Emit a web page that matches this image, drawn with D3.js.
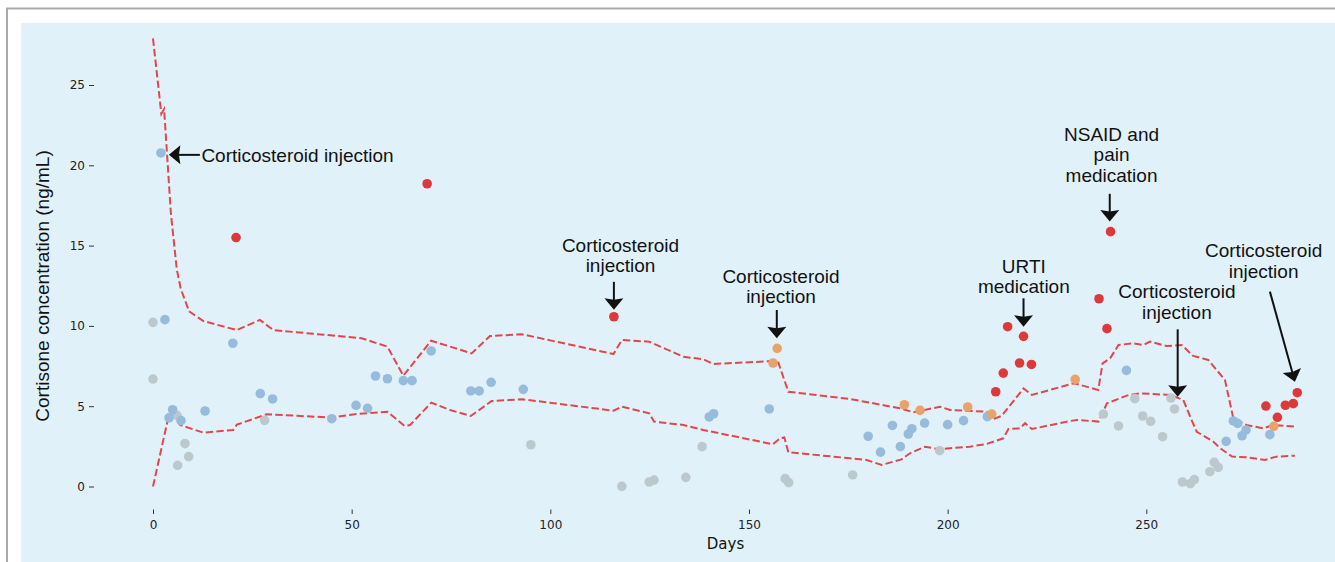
<!DOCTYPE html>
<html>
<head>
<meta charset="utf-8">
<script src="https://cdn.jsdelivr.net/npm/d3@7/dist/d3.min.js"></script>
<style>
  body { margin: 0; background: #fff; }
  svg { display: block; }
</style>
</head>
<body>
<div id="chart"></div>
<script>
// readings, grouped by dot colour
const blueDays = [2.0, 3.0, 4.03, 4.95, 7.05, 13.1, 20.1, 27.0, 30.1, 45, 51.1, 54, 56, 59, 63, 65.2, 70, 80, 82.1, 85.1, 93.2,
  140, 141.1, 155.1, 180, 183.1, 186.1, 188.1, 190.1, 191, 194.2, 200, 204, 210, 245, 270.1, 271.9, 273, 274.1, 275.1, 281.1];
const blueVals = [20.77, 10.39, 4.27, 4.78, 4.10, 4.70, 8.92, 5.78, 5.45, 4.22, 5.05, 4.87, 6.88, 6.71, 6.59, 6.59, 8.44, 5.95, 5.95, 6.49, 6.05,
  4.33, 4.53, 4.83, 3.13, 2.14, 3.80, 2.48, 3.27, 3.60, 3.95, 3.85, 4.10, 4.35, 7.23, 2.81, 4.08, 3.93, 3.16, 3.52, 3.23];

const grayDays = [0, 0, 6.04, 6.2, 8.05, 8.98, 28.1, 95.1, 118, 124.9, 126.1, 134.1, 138.2, 159.1, 160, 176.1, 198,
  239.2, 243, 247.1, 249.1, 251.1, 254.1, 256.2, 257.1, 259.1, 261.1, 262.1, 266, 267.1, 268.1];
const grayVals = [10.22, 6.69, 4.43, 1.32, 2.67, 1.86, 4.12, 2.60, 0.01, 0.28, 0.40, 0.57, 2.48, 0.49, 0.24, 0.72, 2.23,
  4.51, 3.77, 5.47, 4.39, 4.06, 3.10, 5.51, 4.83, 0.28, 0.18, 0.43, 0.92, 1.50, 1.19];

const orangeDays = [156.05, 157.1, 189.1, 193.05, 205.05, 211.1, 232.1, 282.1];
const orangeVals = [7.69, 8.60, 5.09, 4.74, 4.95, 4.51, 6.67, 3.75];

const redDays = [20.9, 69, 116, 212.1, 214, 215.1, 218.1, 219.1, 221.1, 238.1, 240.1, 241, 280.1, 283, 285, 287, 288];
const redVals = [15.5, 18.85, 10.57, 5.90, 7.06, 9.95, 7.69, 9.35, 7.60, 11.69, 9.83, 15.87, 5.01, 4.31, 5.06, 5.16, 5.84];

// reference band (dashed lines)
const upperDays = [0, 2.1, 2.8, 4.5, 6.0, 7.0, 9.1, 12.7, 21.1, 26.9, 30.3, 52.5, 59, 63, 70, 74.8, 80.2, 84.8, 92.8, 115.9, 118,
  124.9, 133.5, 138.5, 141, 156, 157.4, 159.9, 175.4, 181.3, 188, 191.4, 198.1, 200.6, 209.8, 211.5, 213.6, 219.1, 221.2,
  231.8, 237.9, 239.0, 240.9, 243, 246.7, 249.3, 250.9, 255.1, 258.9, 261.8, 265.6, 269.8, 271.9, 275.2, 279.4, 281.9, 287.8];
const upperVals = [27.9, 23.2, 23.5, 17.0, 13.5, 12.3, 10.9, 10.3, 9.74, 10.37, 9.74, 9.23, 8.71, 6.9, 9.08, 8.71, 8.29, 9.37, 9.48, 8.25, 9.12,
  9.02, 8.08, 7.92, 7.63, 7.81, 7.71, 5.9, 5.45, 5.18, 4.87, 4.62, 4.97, 4.76, 4.66, 4.2, 4.4, 6.11, 5.7,
  6.43, 6.01, 7.67, 7.98, 8.81, 8.92, 8.81, 9.02, 8.75, 8.81, 8.13, 7.88, 6.63, 4.25, 3.83, 3.62, 3.83, 3.72];

const lowerDays = [0, 3.9, 5.1, 6.8, 12.7, 20.2, 21.1, 28.6, 45, 50.8, 59, 63.3, 64.7, 70.05, 74.75, 80, 85.2, 93, 115.9, 118,
  124.9, 126.1, 133.5, 138.5, 156, 157.8, 158.9, 159.9, 175.4, 179.6, 183.4, 188.4, 190.5, 194.3, 197.7, 205.6, 209.8, 214,
  215.3, 218.2, 219.5, 221.2, 230.8, 232.6, 238, 240.1, 245.1, 248.4, 251.4, 256, 259.3, 261.4, 262.7, 266.9, 268.6, 271.6,
  275.2, 279.8, 282.7, 287.4];
const lowerVals = [0, 4.35, 4.5, 3.83, 3.35, 3.52, 3.85, 4.5, 4.29, 4.5, 4.66, 3.77, 3.83, 5.22, 4.76, 4.39, 5.32, 5.43, 4.72, 4.97,
  4.56, 4.04, 3.83, 3.52, 2.63, 3.0, 3.06, 2.13, 1.76, 1.65, 1.34, 1.69, 2.07, 2.48, 2.32, 2.48, 2.65, 3.0,
  3.58, 3.62, 3.94, 3.58, 4.08, 4.14, 4.04, 5.18, 5.66, 5.8, 5.76, 5.7, 5.39, 4.14, 3.41, 2.79, 2.38, 1.86,
  1.82, 1.65, 1.86, 1.92];

const xTicks = [0, 50, 100, 150, 200, 250];
const yTicks = [0, 5, 10, 15, 20, 25];

// annotations: text lines and where the arrow tip sits (data units)
const annLabels = [
  ["Corticosteroid injection"],
  ["Corticosteroid", "injection"],
  ["Corticosteroid", "injection"],
  ["NSAID and", "pain", "medication"],
  ["URTI", "medication"],
  ["Corticosteroid", "injection"],
  ["Corticosteroid", "injection"]
];
const annTipDays = [4.0, 116, 157, 240.8, 219.1, 257.9, 287.4];
const annTipVals = [20.65, 11.0, 9.23, 16.5, 9.95, 5.59, 6.53];

const W = 1335, H = 562;

const svg = d3.select("#chart").append("svg")
  .attr("width", W)
  .attr("height", H);

// frame + panel background
svg.append("rect")
  .attr("x", 7).attr("y", 8.5)
  .attr("width", W).attr("height", H)
  .attr("fill", "#fff")
  .attr("stroke", "#a9a9a9")
  .attr("stroke-width", 2);
svg.append("rect")
  .attr("x", 21).attr("y", 23)
  .attr("width", W - 21).attr("height", H - 23)
  .attr("fill", "#e1f1fa");

const x = d3.scaleLinear().domain([0, 250]).range([153, 1146.3]);
const y = d3.scaleLinear().domain([0, 25]).range([486.5, 85]);

// axes
const xAxis = svg.append("g")
  .attr("transform", "translate(0,509.5)")
  .call(d3.axisBottom(x).tickValues(xTicks).tickSize(4.5).tickPadding(6));
const yAxis = svg.append("g")
  .attr("transform", "translate(94,0)")
  .call(d3.axisLeft(y).tickValues(yTicks).tickSize(5).tickPadding(4));
[xAxis, yAxis].forEach(g => {
  g.select(".domain").remove();
  g.selectAll(".tick line").attr("stroke", "#333");
  g.selectAll(".tick text")
    .attr("fill", "#222")
    .style("font-family", "'DejaVu Sans', sans-serif")
    .style("font-size", "12px");
});

svg.append("text")
  .attr("x", 725.5).attr("y", 549)
  .attr("text-anchor", "middle")
  .style("font-family", "'DejaVu Sans', sans-serif")
  .style("font-size", "15px")
  .attr("fill", "#111")
  .text("Days");

svg.append("text")
  .attr("transform", "translate(49,286) rotate(-90)")
  .attr("text-anchor", "middle")
  .style("font-family", "'Liberation Sans', Arial, sans-serif")
  .style("font-size", "19px")
  .attr("fill", "#111")
  .text("Cortisone concentration (ng/mL)");

// dashed band lines
const line = d3.line().x(d => x(d[0])).y(d => y(d[1]));
[[upperDays, upperVals], [lowerDays, lowerVals]].forEach(([ds, vs]) => {
  svg.append("path")
    .datum(d3.zip(ds, vs))
    .attr("d", line)
    .attr("fill", "none")
    .attr("stroke", "#e0474c")
    .attr("stroke-width", 2)
    .attr("stroke-dasharray", "7.4,3.2");
});

// dots
const groups = [
  { days: grayDays, vals: grayVals, color: "#bdc8cc" },
  { days: blueDays, vals: blueVals, color: "#97bbdb" },
  { days: orangeDays, vals: orangeVals, color: "#e8a36a" },
  { days: redDays, vals: redVals, color: "#dc3a3a" }
];
groups.forEach(g => {
  svg.append("g").selectAll("circle")
    .data(d3.zip(g.days, g.vals))
    .enter()
    .append("circle")
    .attr("cx", d => x(d[0]))
    .attr("cy", d => y(d[1]))
    .attr("r", 4.8)
    .attr("fill", g.color);
});

// annotation layout, pixel offsets from the arrow tip
const annLayout = [
  { tail: [31, 0], text: [32.5, 7.3], anchor: "start" },
  { tail: [0, -28], text: [6.6, -37.5], anchor: "middle" },
  { tail: [0, -28.3], text: [4.2, -35], anchor: "middle" },
  { tail: [0, -27.7], text: [1.8, -39.5], anchor: "middle" },
  { tail: [0, -28.4], text: [0.3, -33.4], anchor: "middle" },
  { tail: [0, -67.4], text: [-0.8, -77.7], anchor: "middle" },
  { tail: [-25, -90], text: [-31.3, -103.9], anchor: "middle" }
];
const lineH = 20.7;

function arrow(g, tx, ty, sx, sy) {
  const len = Math.hypot(tx - sx, ty - sy);
  const ux = (tx - sx) / len, uy = (ty - sy) / len;
  const nx = -uy, ny = ux;
  const L = 11.5, hw = 9.5;
  const bx = tx - ux * L, by = ty - uy * L;
  g.append("line")
    .attr("x1", sx).attr("y1", sy)
    .attr("x2", bx + ux * 2).attr("y2", by + uy * 2)
    .attr("stroke", "#111")
    .attr("stroke-width", 2);
  g.append("path")
    .attr("d", `M${tx},${ty}L${bx + nx * hw},${by + ny * hw}L${bx + ux * 1.5},${by + uy * 1.5}L${bx - nx * hw},${by - ny * hw}Z`)
    .attr("fill", "#111");
}

const ann = svg.append("g");
annLabels.forEach((lines, i) => {
  const tx = x(annTipDays[i]), ty = y(annTipVals[i]);
  const lay = annLayout[i];
  arrow(ann, tx, ty, tx + lay.tail[0], ty + lay.tail[1]);
  const t = ann.append("text")
    .attr("text-anchor", lay.anchor)
    .style("font-family", "'Liberation Sans', Arial, sans-serif")
    .style("font-size", "19px")
    .attr("fill", "#111");
  lines.forEach((s, k) => {
    t.append("tspan")
      .attr("x", tx + lay.text[0])
      .attr("y", ty + lay.text[1] - (lines.length - 1 - k) * lineH)
      .text(s);
  });
});
</script>
</body>
</html>
